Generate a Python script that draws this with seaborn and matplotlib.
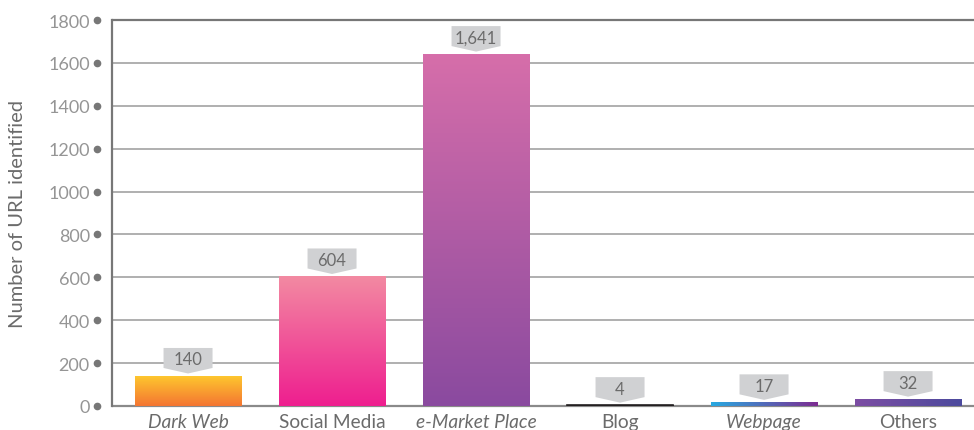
import numpy as np
import pandas as pd
import matplotlib
matplotlib.use("Agg")
import matplotlib.pyplot as plt
import seaborn as sns
from matplotlib.colors import LinearSegmentedColormap
from matplotlib.patches import Polygon
from matplotlib.transforms import ScaledTranslation

# ---- data ----
categories = ["Dark Web", "Social Media", "e-Market Place", "Blog", "Webpage", "Others"]
values = [140, 604, 1641, 4, 17, 32]
italic_cats = ["Dark Web", "e-Market Place", "Webpage"]

# gradient (start, end, direction) per bar
bar_colors = [
    ("#F47532", "#FEC92E", "v"),   # bottom -> top
    ("#EE1E8F", "#F38AA2", "v"),
    ("#8A4A9F", "#D66EAA", "v"),
    ("#231F20", "#231F20", "v"),
    ("#27A9E1", "#7D2B91", "h"),   # left -> right
    ("#7C4DA3", "#4C4A9D", "h"),
]

yticks = [0, 200, 400, 600, 800, 1000, 1200, 1400, 1600, 1800]

sns.set_style("white")
plt.rcParams['font.family'] = ['Lato', 'DejaVu Sans']

grey_txt = "#6b6b6b"
grey_line = "#8a8a8a"

fig = plt.figure(figsize=(9.74, 4.31), dpi=100)
ax = fig.add_axes([112 / 974, 1 - 407 / 431, 1 - 112 / 974, (407 - 21) / 431])

df = pd.DataFrame({"cat": categories, "val": values})
sns.barplot(data=df, x="cat", y="val", ax=ax, width=0.74, color="white", zorder=3)

# gradient fills clipped to each bar
for patch, (c0, c1, d) in zip(ax.patches, bar_colors):
    x0, y0 = patch.get_x(), patch.get_y()
    w, h = patch.get_width(), patch.get_height()
    cmap = LinearSegmentedColormap.from_list("g", [c0, c1])
    if d == "v":
        grad = np.linspace(0, 1, 256).reshape(-1, 1)
    else:
        grad = np.linspace(0, 1, 256).reshape(1, -1)
    im = ax.imshow(grad, cmap=cmap, aspect="auto", origin="lower",
                   extent=[x0, x0 + w, y0, y0 + h], zorder=3)
    im.set_clip_path(patch)
    patch.set_facecolor("none")
    patch.set_edgecolor("none")
    if h < 10:
        patch.set_edgecolor(c0)
        patch.set_linewidth(1.2)
        patch.set_zorder(4)

ax.set_ylim(0, 1800)
ax.set_xlim(-0.528, 5.458)

# grid & spines
ax.set_yticks(yticks)
ax.yaxis.grid(True, color="#9a9a9a", lw=1.1, zorder=0)
ax.xaxis.grid(False)
for s in ["top", "right", "bottom"]:
    ax.spines[s].set_visible(False)
ax.spines["left"].set_color("#777777")
ax.spines["left"].set_linewidth(1.6)
ax.axhline(1800, color="#777777", lw=1.6, zorder=1, clip_on=False)
ax.axhline(0, color="#8a8a8a", lw=1.6, zorder=2, clip_on=False)

# ticks with dot ends
ax.tick_params(axis="y", length=11, width=1.2, color=grey_line, pad=5,
               labelsize=13, labelcolor="#959595")
ax.tick_params(axis="x", length=0, pad=5, labelsize=13.8, labelcolor=grey_txt)
ax.plot([-15 / 862] * len(yticks), yticks, "o", ms=4.5, color="#777777",
        transform=ax.get_yaxis_transform(), clip_on=False, zorder=5)

for lab in ax.get_xticklabels():
    if lab.get_text() in italic_cats:
        lab.set_style("italic")

ax.set_xlabel("")
ax.set_ylabel("Number of URL identified", fontsize=14.5, color=grey_txt)
ax.yaxis.set_label_coords(-0.100, 0.5)

# callout labels
for i, v in enumerate(values):
    tr = fig.dpi_scale_trans + ScaledTranslation(i, v, ax.transData)
    hw, tip, top = 0.245, 0.08, 0.28
    verts = [(-hw, top), (hw, top), (hw, tip), (0, 0.025), (-hw, tip)]
    ax.add_patch(Polygon(verts, closed=True, transform=tr, facecolor="#d0d1d3",
                         edgecolor="none", zorder=6, clip_on=False))
    ax.text(0, 0.165, f"{v:,}", transform=tr, ha="center", va="center",
            fontsize=12, color=grey_txt, zorder=7)

fig.savefig("out.png", dpi=100, facecolor="white")
